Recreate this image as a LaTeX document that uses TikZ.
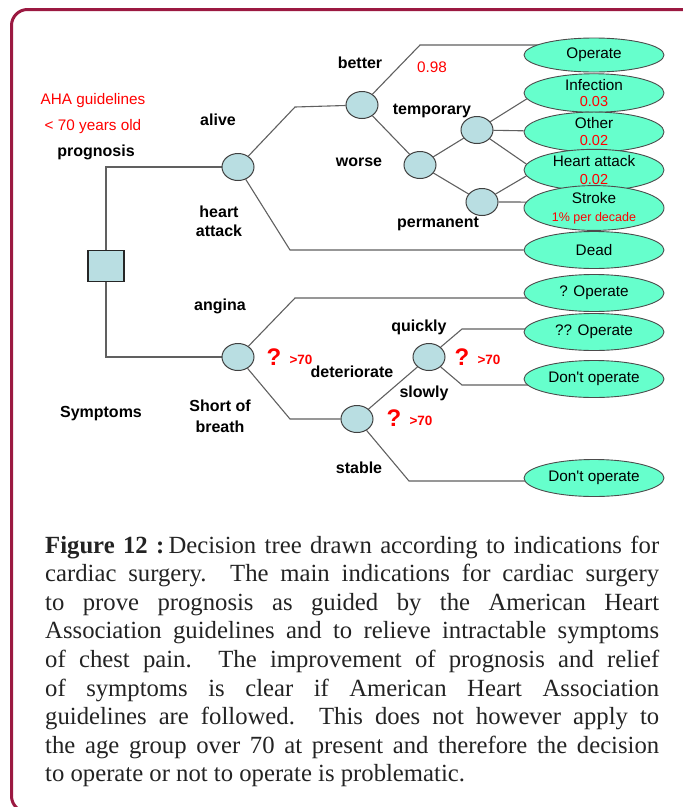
\documentclass[tikz,border=0pt]{standalone}
\usepackage{fontspec}
\setmainfont{Liberation Serif}
\newfontfamily\dsans{Liberation Sans}
\usetikzlibrary{shapes.geometric,backgrounds}

\definecolor{framered}{RGB}{155,25,65}
\definecolor{nodeblue}{RGB}{185,222,226}
\definecolor{leafgreen}{RGB}{102,255,204}
\definecolor{branchgray}{RGB}{96,96,96}
\definecolor{captext}{RGB}{35,35,35}

\begin{document}
\begin{tikzpicture}[x=1pt,y=-1pt,
  chance/.style={ellipse,draw=black!75,fill=nodeblue,line width=1pt,
    minimum width=32pt,minimum height=27pt,inner sep=0pt},
  decision/.style={rectangle,draw=black!85,fill=nodeblue,line width=1.2pt,
    minimum width=36pt,minimum height=31pt,inner sep=0pt},
  leaf/.style={ellipse,draw=black!70,fill=leafgreen,line width=0.9pt,
    minimum width=140pt,minimum height=37pt,inner sep=0pt,align=center,
    font=\dsans\fontsize{15.3}{16}\selectfont},
  lbl/.style={font=\dsans\bfseries\fontsize{16}{18}\selectfont,inner sep=0pt,
    text height=11.5pt,text depth=0pt},
  note/.style={font=\dsans\fontsize{15.3}{17}\selectfont,text=red,inner sep=0pt,
    text height=11pt,text depth=0pt},
  qmark/.style={font=\dsans\bfseries\fontsize{24}{24}\selectfont,text=red,inner sep=0pt},
  gt/.style={font=\dsans\bfseries\fontsize{13.5}{14}\selectfont,text=red,inner sep=0pt},
  branch/.style={draw=branchgray,line width=1.1pt},
  capline/.style={font=\fontsize{24.7}{28}\selectfont,text=captext,inner sep=0pt,
    anchor=base west},
]
\useasboundingbox (0,0) rectangle (683,807);

% frame
\draw[framered,line width=3pt,rounded corners=16pt]
  (700,9.5) -- (11.5,9.5) -- (11.5,812) -- (700,812);

% decision and chance nodes
\node[decision] (sq) at (106,266) {};
\node[chance] (A) at (238,167) {};
\node[chance] (B) at (362,105) {};
\node[chance] (C) at (420,165) {};
\node[chance] (D) at (477,130) {};
\node[chance] (E) at (482,202) {};
\node[chance] (F) at (238,357) {};
\node[chance] (G) at (357,419) {};
\node[chance] (H) at (429,357) {};

% outcomes
\node[leaf,minimum height=34pt] (op) at (594,55) {Operate};
\node[leaf] (inf) at (594,93) {Infection\\{\color{red}\fontsize{14.5}{16}\selectfont 0.03}};
\node[leaf] (oth) at (594,132) {Other\\[1pt]{\color{red}\fontsize{14.5}{16}\selectfont 0.02}};
\node[leaf] (ha) at (594,170) {Heart attack\\[2pt]{\color{red}\fontsize{14.5}{16}\selectfont 0.02}};
\node[leaf] (str) at (594,208) {Stroke\\[2pt]{\color{red}\fontsize{12.5}{14}\selectfont 1\% per decade}};
\node[leaf] (dead) at (594,250) {Dead};
\node[leaf] (qop) at (594,293) {? Operate};
\node[leaf] (qqop) at (594,332) {?? Operate};
\node[leaf] (dop1) at (594,379) {Don't operate};
\node[leaf] (dop2) at (594,478) {Don't operate};

% bend points of the branches
\coordinate (a1) at (295,107);
\coordinate (a2) at (290,250);
\coordinate (b1) at (420,45);
\coordinate (f1) at (295,298);
\coordinate (f2) at (290,419);
\coordinate (h1) at (462,329);
\coordinate (h2) at (462,385);
\coordinate (g1) at (409,481);

\begin{scope}[on background layer]
  \draw[branch] (sq.north) |- (A);
  \draw[branch] (sq.south) |- (F);
  \draw[branch] (A) -- (a1) -- (B);
  \draw[branch] (B) -- (b1) -- (b1 -| op.center);
  \draw[branch] (B) -- (C);
  \draw[branch] (C) -- (D);
  \draw[branch] (C) -- (E);
  \draw[branch] (D) -- (inf.185);
  \draw[branch] (D) -- (oth);
  \draw[branch] (D) -- (ha.175);
  \draw[branch] (E) -- (ha.185);
  \draw[branch] (E) -- (str.175);
  \draw[branch] (A) -- (a2) -- (dead);
  \draw[branch] (F) -- (f1) -- (f1 -| qop.center);
  \draw[branch] (F) -- (f2) -- (G);
  \draw[branch] (G) -- (H);
  \draw[branch] (H) -- (h1) -- (h1 -| qqop.center);
  \draw[branch] (H) -- (h2) -- (h2 -| dop1.center);
  \draw[branch] (G) -- (g1) -- (g1 -| dop2.center);
\end{scope}

% labels
\node[note] (aha) at (93,99) {AHA guidelines};
\node[note] (age) at (93,125) {< 70 years old};
\node[lbl] (prog) at (96,151) {prognosis};
\node[lbl] (alive) at (218,120) {alive};
\node[lbl] (heart) at (219,212) {heart};
\node[lbl] (attack) at (219,231) {attack};
\node[lbl] (better) at (360,63) {better};
\node[note] (p98) at (432,67) {0.98};
\node[lbl] (temp) at (432,109) {temporary};
\node[lbl] (worse) at (359,161) {worse};
\node[lbl] (perm) at (438,222) {permanent};
\node[lbl] (angina) at (220,305) {angina};
\node[lbl] (short) at (220,406) {Short of};
\node[lbl] (breath) at (220,427) {breath};
\node[lbl] (sympt) at (101,412) {Symptoms};
\node[lbl] (deter) at (352,372) {deteriorate};
\node[lbl] (quick) at (419,326) {quickly};
\node[lbl] (slow) at (424,392) {slowly};
\node[lbl] (stable) at (359,468) {stable};

\node[qmark] (q1) at (274,357) {?};
\node[gt] (g70a) at (301,360) {>70};
\node[qmark] (q2) at (462,357) {?};
\node[gt] (g70b) at (489,360) {>70};
\node[qmark] (q3) at (394,418) {?};
\node[gt] (g70c) at (421,421) {>70};

% caption
\node[capline] (c1) at (45,553) {\makebox[614pt][s]{\textbf{Figure 12 :}\,Decision tree drawn according to indications for}};
\node[capline] (c2) at (45,581.6) {\makebox[614pt][s]{cardiac surgery.\ \ The main indications for cardiac surgery}};
\node[capline] (c3) at (45,610.2) {\makebox[614pt][s]{to prove prognosis as guided by the American Heart}};
\node[capline] (c4) at (45,638.8) {\makebox[614pt][s]{Association guidelines and to relieve intractable symptoms}};
\node[capline] (c5) at (45,667.4) {\makebox[614pt][s]{of chest pain.\ \ The improvement of prognosis and relief}};
\node[capline] (c6) at (45,696) {\makebox[614pt][s]{of symptoms is clear if American Heart Association}};
\node[capline] (c7) at (45,724.6) {\makebox[614pt][s]{guidelines are followed.\ \ This does not however apply to}};
\node[capline] (c8) at (45,753.2) {\makebox[614pt][s]{the age group over 70 at present and therefore the decision}};
\node[capline] (c9) at (45,781.8) {to operate or not to operate is problematic.};
\end{tikzpicture}
\end{document}
